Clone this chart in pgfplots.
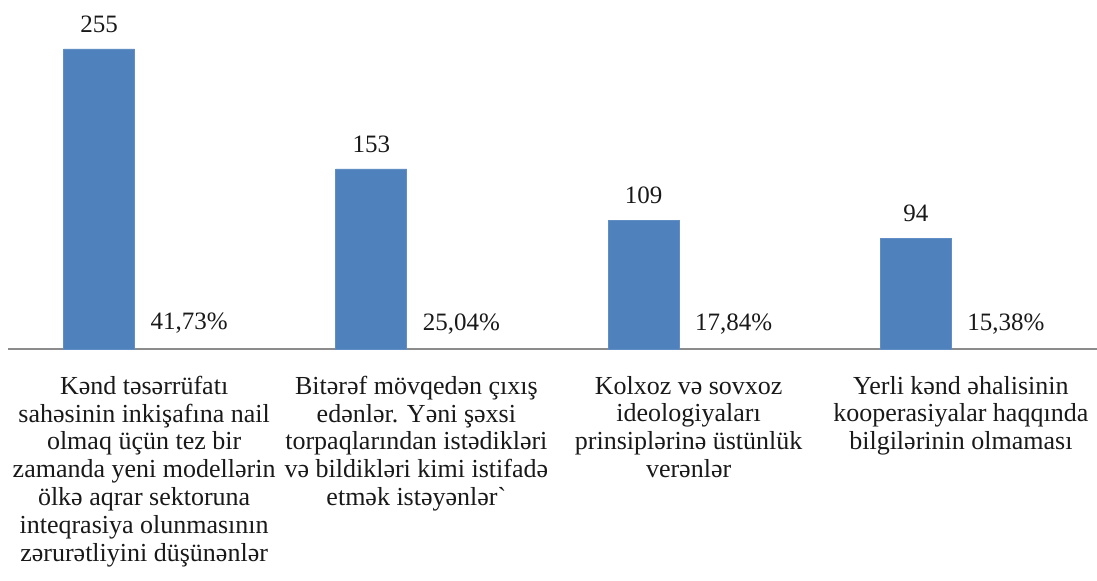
\documentclass[border=0pt]{standalone}
\usepackage{pgfplots}
\pgfplotsset{compat=1.18}
\usepackage{fontspec}
\setmainfont{Liberation Serif}
\newfontfamily\lserif{Liberation Serif}
\definecolor{barblue}{HTML}{4F81BD}
\begin{document}
\begin{tikzpicture}
\begin{axis}[
  name=ax,
  scale only axis,
  width=544.5pt, height=174.5pt,
  xmin=-0.5, xmax=3.5,
  ymin=0, ymax=296.6,
  axis x line*=bottom,
  axis y line=none,
  x axis line style={draw=black!45, line width=0.8pt, -},
  xtick={0,1,2,3},
  major tick length=0pt,
  xticklabels={
    {Kənd təsərrüfatı\\sahəsinin inkişafına nail\\olmaq üçün tez bir\\zamanda yeni modellərin\\ölkə aqrar sektoruna\\inteqrasiya olunmasının\\zərurətliyini düşünənlər},
    {Bitərəf mövqedən çıxış\\edənlər. Yəni şəxsi\\torpaqlarından istədikləri\\və bildikləri kimi istifadə\\etmək istəyənlər\textasciigrave},
    {Kolxoz və sovxoz\\ideologiyaları\\prinsiplərinə üstünlük\\verənlər},
    {Yerli kənd əhalisinin\\kooperasiyalar haqqında\\bilgilərinin olmaması}},
  xticklabel style={align=center, font=\lserif\fontsize{13}{13.9}\selectfont, text=black!90, yshift=-10pt},
  ytick=\empty,
  clip=false,
  point meta=explicit symbolic,
  nodes near coords,
  every node near coord/.append style={anchor=center, yshift=12.5pt, font=\lserif\fontsize{12.5}{14}\selectfont, text=black!90},
]
\addplot[ybar, bar width=35.5pt, bar shift=0pt, fill=barblue, draw=barblue!90!white]
  coordinates {(-0.1653,255) [255] (0.8347,153) [153] (1.8347,109) [109] (2.8347,94) [94]};
\addplot[ybar, bar width=35.5pt, bar shift=0pt, fill=none, draw=none]
  coordinates {(0.1653,0.4173) [41,73\%] (1.1653,0.2504) [25,04\%] (2.1653,0.1784) [17,84\%] (3.1653,0.1538) [15,38\%]};
\end{axis}
\pgfresetboundingbox
\path[use as bounding box] (ax.south west) ++(-4pt,-115.5pt) rectangle (ax.north east);
\end{tikzpicture}
\end{document}
